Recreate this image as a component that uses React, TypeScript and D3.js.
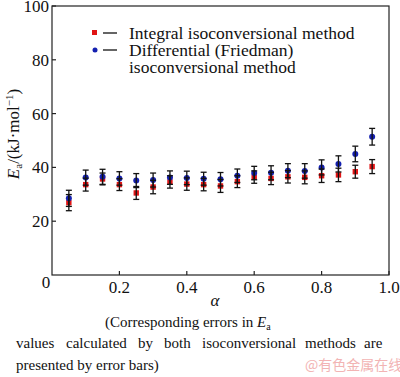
import React from "react";
import * as d3 from "d3";

const alphas = [0.05, 0.1, 0.15, 0.2, 0.25, 0.3, 0.35, 0.4, 0.45, 0.5, 0.55, 0.6, 0.65, 0.7, 0.75, 0.8, 0.85, 0.9, 0.95];
const integralEa = [26.9, 33.6, 35.7, 33.6, 30.5, 32.7, 34.6, 33.8, 33.6, 33.1, 34.7, 36.4, 35.9, 36.5, 36.3, 36.9, 37.2, 38.4, 40.3];
const integralErr = [3.0, 2.4, 2.2, 2.2, 2.4, 2.5, 2.3, 2.3, 2.3, 2.4, 2.2, 2.3, 2.3, 2.3, 2.4, 2.5, 2.5, 2.4, 2.6];
const friedmanEa = [28.5, 36.2, 36.5, 35.9, 35.1, 35.3, 36.2, 36.1, 35.8, 35.6, 36.9, 37.9, 38.0, 38.8, 38.7, 40.0, 41.3, 45.0, 51.4];
const friedmanErr = [3.0, 2.8, 2.8, 2.5, 2.6, 2.6, 2.5, 2.5, 2.4, 2.5, 2.5, 2.5, 2.6, 2.6, 2.7, 2.8, 3.0, 2.9, 3.1];
const yTicks = [20, 40, 60, 80, 100];
const xTicks = [0.2, 0.4, 0.6, 0.8, 1.0];
const legendLabels = ["Integral isoconversional method", "Differential (Friedman)", "isoconversional method"];

const RED = "#e01414";
const BLUE = "#1420b0";
const FONT = "Liberation Serif";

export default function App() {
  const left = 52, right = 389, top = 6, bottom = 275;
  const x = d3.scaleLinear().domain([0, 1]).range([left, right]);
  const y = d3.scaleLinear().domain([0, 100]).range([bottom, top]);
  const cap = 3;

  const errBars = (vals: number[], errs: number[], key: string) =>
    alphas.map((a, i) => {
      const cx = x(a);
      const y1 = y(vals[i] + errs[i]);
      const y2 = y(vals[i] - errs[i]);
      return (
        <g key={key + i} stroke="#111" strokeWidth={1.3}>
          <line x1={cx} x2={cx} y1={y1} y2={y2} />
          <line x1={cx - cap} x2={cx + cap} y1={y1} y2={y1} />
          <line x1={cx - cap} x2={cx + cap} y1={y2} y2={y2} />
        </g>
      );
    });

  const words = [
    ["values", 16],
    ["calculated", 66],
    ["by", 138],
    ["both", 164],
    ["isoconversional", 202],
    ["methods", 305],
    ["are", 364],
  ] as [string, number][];

  const ts = { fontFamily: FONT };

  return (
    <svg
      width={400}
      height={377}
      style={{ position: "fixed", left: 0, top: 0, background: "#fff" }}
    >
      <rect x={0} y={0} width={400} height={377} fill="#fff" />
      <rect x={left} y={top} width={right - left} height={bottom - top} fill="none" stroke="#222" strokeWidth={1.2} />
      <g style={ts}>
        {yTicks.map((t) => (
          <g key={"yt" + t}>
            <line x1={left} x2={left + 4} y1={y(t)} y2={y(t)} stroke="#222" strokeWidth={1.2} />
            <text x={left - 3} y={y(t)} dy="0.35em" textAnchor="end" fontSize={17} fill="#111" style={ts}>
              {t}
            </text>
          </g>
        ))}
        <text x={46} y={288} textAnchor="middle" fontSize={17} fill="#111" style={ts}>0</text>
        {xTicks.map((t) => (
          <g key={"xt" + t}>
            <line x1={x(t)} x2={x(t)} y1={bottom} y2={bottom - 4} stroke="#222" strokeWidth={1.2} />
            <text x={x(t)} y={293} textAnchor="middle" fontSize={17} fill="#111" style={ts}>
              {t.toFixed(1)}
            </text>
          </g>
        ))}
        <text x={215} y={306} textAnchor="middle" fontSize={17} fontStyle="italic" fill="#111" style={ts}>α</text>
        <text transform="translate(19,134) rotate(-90)" textAnchor="middle" fontSize={17} fill="#111" style={ts}>
          <tspan fontStyle="italic">E</tspan>
          <tspan fontSize={11} dy={3}>a</tspan>
          <tspan dy={-3}>/(kJ·mol</tspan>
          <tspan fontSize={11} dy={-6}>−1</tspan>
          <tspan dy={6}>)</tspan>
        </text>
      </g>
      {alphas.map((a, i) => (
        <rect key={"r" + i} x={x(a) - 2.7} y={y(integralEa[i]) - 2.7} width={5.4} height={5.4} fill={RED} />
      ))}
      {alphas.map((a, i) => (
        <circle key={"b" + i} cx={x(a)} cy={y(friedmanEa[i])} r={3} fill={BLUE} />
      ))}
      {errBars(integralEa, integralErr, "ei")}
      {errBars(friedmanEa, friedmanErr, "ef")}
      <rect x={92} y={30} width={5} height={5} fill={RED} />
      <line x1={103} x2={117} y1={33} y2={33} stroke="#111" strokeWidth={1.3} />
      <circle cx={95} cy={50} r={2.5} fill={BLUE} />
      <line x1={103} x2={117} y1={50} y2={50} stroke="#111" strokeWidth={1.3} />
      <g style={ts}>
        <text x={129} y={39} fontSize={17.5} fill="#111" style={ts}>{legendLabels[0]}</text>
        <text x={129} y={56} fontSize={17.5} fill="#111" style={ts}>{legendLabels[1]}</text>
        <text x={129} y={73} fontSize={17.5} fill="#111" style={ts}>{legendLabels[2]}</text>
        <text x={105} y={327} fontSize={15} fill="#111" style={ts}>
          (Corresponding errors in <tspan fontStyle="italic">E</tspan>
          <tspan fontSize={10} dy={3}>a</tspan>
        </text>
        {words.map(([w, wx]) => (
          <text key={w} x={wx} y={348} fontSize={15} fill="#111" style={ts}>{w}</text>
        ))}
        <text x={16} y={370} fontSize={15} fill="#111" style={ts}>presented by error bars)</text>
      </g>
      <text x={305} y={370} fontSize={14} fill="#f2b4b4" style={{ fontFamily: "Noto Sans CJK SC" }}>@有色金属在线</text>
    </svg>
  );
}
